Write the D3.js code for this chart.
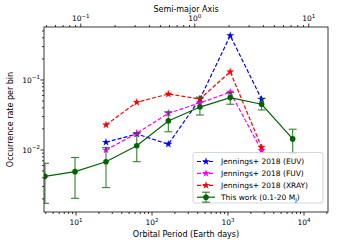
<!DOCTYPE html>
<html>
<head>
<meta charset="utf-8">
<script src="https://cdn.jsdelivr.net/npm/d3@7"></script>
<style>
  body { margin: 0; background: #fff; }
  text { font-family: "DejaVu Sans", sans-serif; fill: #000; }
</style>
</head>
<body>
<svg id="chart" width="337" height="245"></svg>
<script>
// data
var xLimits = [3.79, 20700];
var yLimits = [0.0013, 0.571];

var periods = [3.9, 9.7, 24.8, 63, 164, 427, 1070, 2770, 7100];
var thisWork = [0.0042, 0.0049, 0.0068, 0.0115, 0.026, 0.041, 0.056, 0.045, 0.0144];
var thisWorkLow = [0.00173, 0.00204, 0.0029, 0.0068, 0.0182, 0.0316, 0.045, 0.0373, 0.009];
var thisWorkHigh = [0.00646, 0.0078, 0.0108, 0.0175, 0.0352, 0.057, 0.066, 0.0548, 0.0198];

var jenningsPeriods = [24.8, 63, 164, 427, 1070, 2770];
var euv = [0.0129, 0.0169, 0.0121, 0.0535, 0.43, 0.053];
var fuv = [0.0100, 0.0173, 0.0334, 0.047, 0.067, 0.0098];
var xray = [0.0228, 0.048, 0.063, 0.0535, 0.131, 0.0109];

var xMajor = [10, 100, 1000, 10000];
var yMajor = [0.01, 0.1];
var aMajor = [0.1, 1, 10];

var m = {left: 44, right: 328, top: 27, bottom: 212};

var svg = d3.select('#chart');
var x = d3.scaleLog().domain(xLimits).range([m.left, m.right]);
var y = d3.scaleLog().domain(yLimits).range([m.bottom, m.top]);
// semi-major axis (AU) -> period (days), Kepler with 1 solar mass
var aToP = (a) => 365.25 * Math.pow(a, 1.5);

// minor tick values for a log range
function minorTicks(lo, hi) {
    let out = [];
    for (let e = Math.floor(Math.log10(lo)); e <= Math.ceil(Math.log10(hi)); e++) {
        for (let k = 2; k <= 9; k++) {
            let v = k * Math.pow(10, e);
            if (v >= lo && v <= hi) out.push(v);
        }
    }
    return out;
}

function powLabel(sel, v) {
    let e = Math.round(Math.log10(v));
    sel.append('tspan').text('10');
    sel.append('tspan')
        .attr('dy', -3.5)
        .attr('font-size', 5.5)
        .text(e < 0 ? '\u2212' + (-e) : e);
}

svg.append('defs').append('clipPath').attr('id', 'clip')
    .append('rect')
    .attr('x', m.left).attr('y', m.top)
    .attr('width', m.right - m.left).attr('height', m.bottom - m.top);

// ticks
let ticks = svg.append('g').attr('stroke', '#000').attr('stroke-width', 0.8);
for (let v of xMajor) {
    ticks.append('line').attr('x1', x(v)).attr('x2', x(v)).attr('y1', m.bottom).attr('y2', m.bottom + 3.5);
}
for (let v of minorTicks(xLimits[0], xLimits[1])) {
    ticks.append('line').attr('x1', x(v)).attr('x2', x(v)).attr('y1', m.bottom).attr('y2', m.bottom + 2);
}
for (let v of yMajor) {
    ticks.append('line').attr('y1', y(v)).attr('y2', y(v)).attr('x1', m.left).attr('x2', m.left - 3.5);
}
for (let v of minorTicks(yLimits[0], yLimits[1])) {
    ticks.append('line').attr('y1', y(v)).attr('y2', y(v)).attr('x1', m.left).attr('x2', m.left - 2);
}
let aLo = Math.pow(xLimits[0] / 365.25, 2 / 3), aHi = Math.pow(xLimits[1] / 365.25, 2 / 3);
for (let a of aMajor) {
    ticks.append('line').attr('x1', x(aToP(a))).attr('x2', x(aToP(a))).attr('y1', m.top).attr('y2', m.top - 3.5);
}
for (let a of minorTicks(aLo, aHi)) {
    ticks.append('line').attr('x1', x(aToP(a))).attr('x2', x(aToP(a))).attr('y1', m.top).attr('y2', m.top - 2);
}

// tick labels
for (let v of xMajor) {
    svg.append('text').attr('x', x(v)).attr('y', m.bottom + 13)
        .attr('text-anchor', 'middle').attr('font-size', 7.5)
        .call(powLabel, v);
}
for (let v of yMajor) {
    svg.append('text').attr('x', m.left - 4).attr('y', y(v) + 3)
        .attr('text-anchor', 'end').attr('font-size', 7.5)
        .call(powLabel, v);
}
for (let a of aMajor) {
    svg.append('text').attr('x', x(aToP(a))).attr('y', m.top - 6)
        .attr('text-anchor', 'middle').attr('font-size', 7.5)
        .call(powLabel, a);
}

// axis titles
svg.append('text').attr('x', (m.left + m.right) / 2).attr('y', 237)
    .attr('text-anchor', 'middle').attr('font-size', 8).text('Orbital Period (Earth days)');
svg.append('text').attr('x', (m.left + m.right) / 2).attr('y', 12)
    .attr('text-anchor', 'middle').attr('font-size', 8).text('Semi-major Axis');
svg.append('text')
    .attr('transform', 'translate(13,' + (m.top + m.bottom) / 2 + ') rotate(-90)')
    .attr('text-anchor', 'middle').attr('font-size', 8).text('Occurrence rate per bin');

// series
let plot = svg.append('g').attr('clip-path', 'url(#clip)');
let line = d3.line().x((d) => x(d[0])).y((d) => y(d[1]));
let star = d3.symbol().type(d3.symbolStar).size(20);

let jennings = [
    {vals: euv, color: 'blue'},
    {vals: fuv, color: 'magenta'},
    {vals: xray, color: 'red'}
];
for (let s of jennings) {
    let pts = jenningsPeriods.map((p, i) => [p, s.vals[i]]);
    plot.append('path').attr('d', line(pts))
        .attr('fill', 'none').attr('stroke', s.color)
        .attr('stroke-width', 1.2).attr('stroke-dasharray', '4,2');
    plot.selectAll(null).data(pts).enter().append('path')
        .attr('d', star)
        .attr('transform', (d) => 'translate(' + x(d[0]) + ',' + y(d[1]) + ')')
        .attr('fill', s.color);
}

let green = 'darkgreen';
let gpts = periods.map((p, i) => [p, thisWork[i], thisWorkLow[i], thisWorkHigh[i]]);
let eb = plot.append('g').attr('stroke', green).attr('stroke-width', 1.1).attr('opacity', 0.8);
for (let d of gpts) {
    let cx = x(d[0]);
    eb.append('line').attr('x1', cx).attr('x2', cx).attr('y1', y(d[2])).attr('y2', y(d[3]));
    eb.append('line').attr('x1', cx - 4).attr('x2', cx + 4).attr('y1', y(d[2])).attr('y2', y(d[2]));
    eb.append('line').attr('x1', cx - 4).attr('x2', cx + 4).attr('y1', y(d[3])).attr('y2', y(d[3]));
}
plot.append('path').attr('d', line(gpts))
    .attr('fill', 'none').attr('stroke', green).attr('stroke-width', 1.2);
plot.selectAll(null).data(gpts).enter().append('circle')
    .attr('cx', (d) => x(d[0])).attr('cy', (d) => y(d[1]))
    .attr('r', 2.8).attr('fill', green);

// frame
svg.append('rect')
    .attr('x', m.left).attr('y', m.top)
    .attr('width', m.right - m.left).attr('height', m.bottom - m.top)
    .attr('fill', 'none').attr('stroke', '#222').attr('stroke-width', 0.9);

// legend
let lg = svg.append('g');
lg.append('rect').attr('x', 193).attr('y', 152.5).attr('width', 130).attr('height', 50.5)
    .attr('rx', 2).attr('fill', 'white').attr('fill-opacity', 0.8)
    .attr('stroke', '#ccc').attr('stroke-width', 0.8);
let labels = ['Jennings+ 2018 (EUV)', 'Jennings+ 2018 (FUV)', 'Jennings+ 2018 (XRAY)'];
jennings.forEach((s, i) => {
    let ly = 161.5 + i * 11.9;
    lg.append('line').attr('x1', 197).attr('x2', 215).attr('y1', ly).attr('y2', ly)
        .attr('stroke', s.color).attr('stroke-width', 1.2).attr('stroke-dasharray', '4,2');
    lg.append('path').attr('d', star).attr('transform', 'translate(206,' + ly + ')').attr('fill', s.color);
    lg.append('text').attr('x', 221).attr('y', ly + 2.7).attr('font-size', 7.5).text(labels[i]);
});
let gy = 161.5 + 3 * 11.9;
lg.append('line').attr('x1', 197).attr('x2', 215).attr('y1', gy).attr('y2', gy)
    .attr('stroke', green).attr('stroke-width', 1.2);
lg.append('line').attr('x1', 206).attr('x2', 206).attr('y1', gy - 5).attr('y2', gy + 5)
    .attr('stroke', green).attr('stroke-width', 1.1).attr('opacity', 0.8);
lg.append('line').attr('x1', 202).attr('x2', 210).attr('y1', gy - 5).attr('y2', gy - 5)
    .attr('stroke', green).attr('stroke-width', 1.1).attr('opacity', 0.8);
lg.append('line').attr('x1', 202).attr('x2', 210).attr('y1', gy + 5).attr('y2', gy + 5)
    .attr('stroke', green).attr('stroke-width', 1.1).attr('opacity', 0.8);
lg.append('circle').attr('cx', 206).attr('cy', gy).attr('r', 2.8).attr('fill', green);
let gt = lg.append('text').attr('x', 221).attr('y', gy + 2.7).attr('font-size', 7.5);
gt.append('tspan').text('This work (0.1-20 M');
gt.append('tspan').attr('dy', 1.8).attr('font-size', 5.5).text('J');
gt.append('tspan').attr('dy', -1.8).text(')');
</script>
</body>
</html>
